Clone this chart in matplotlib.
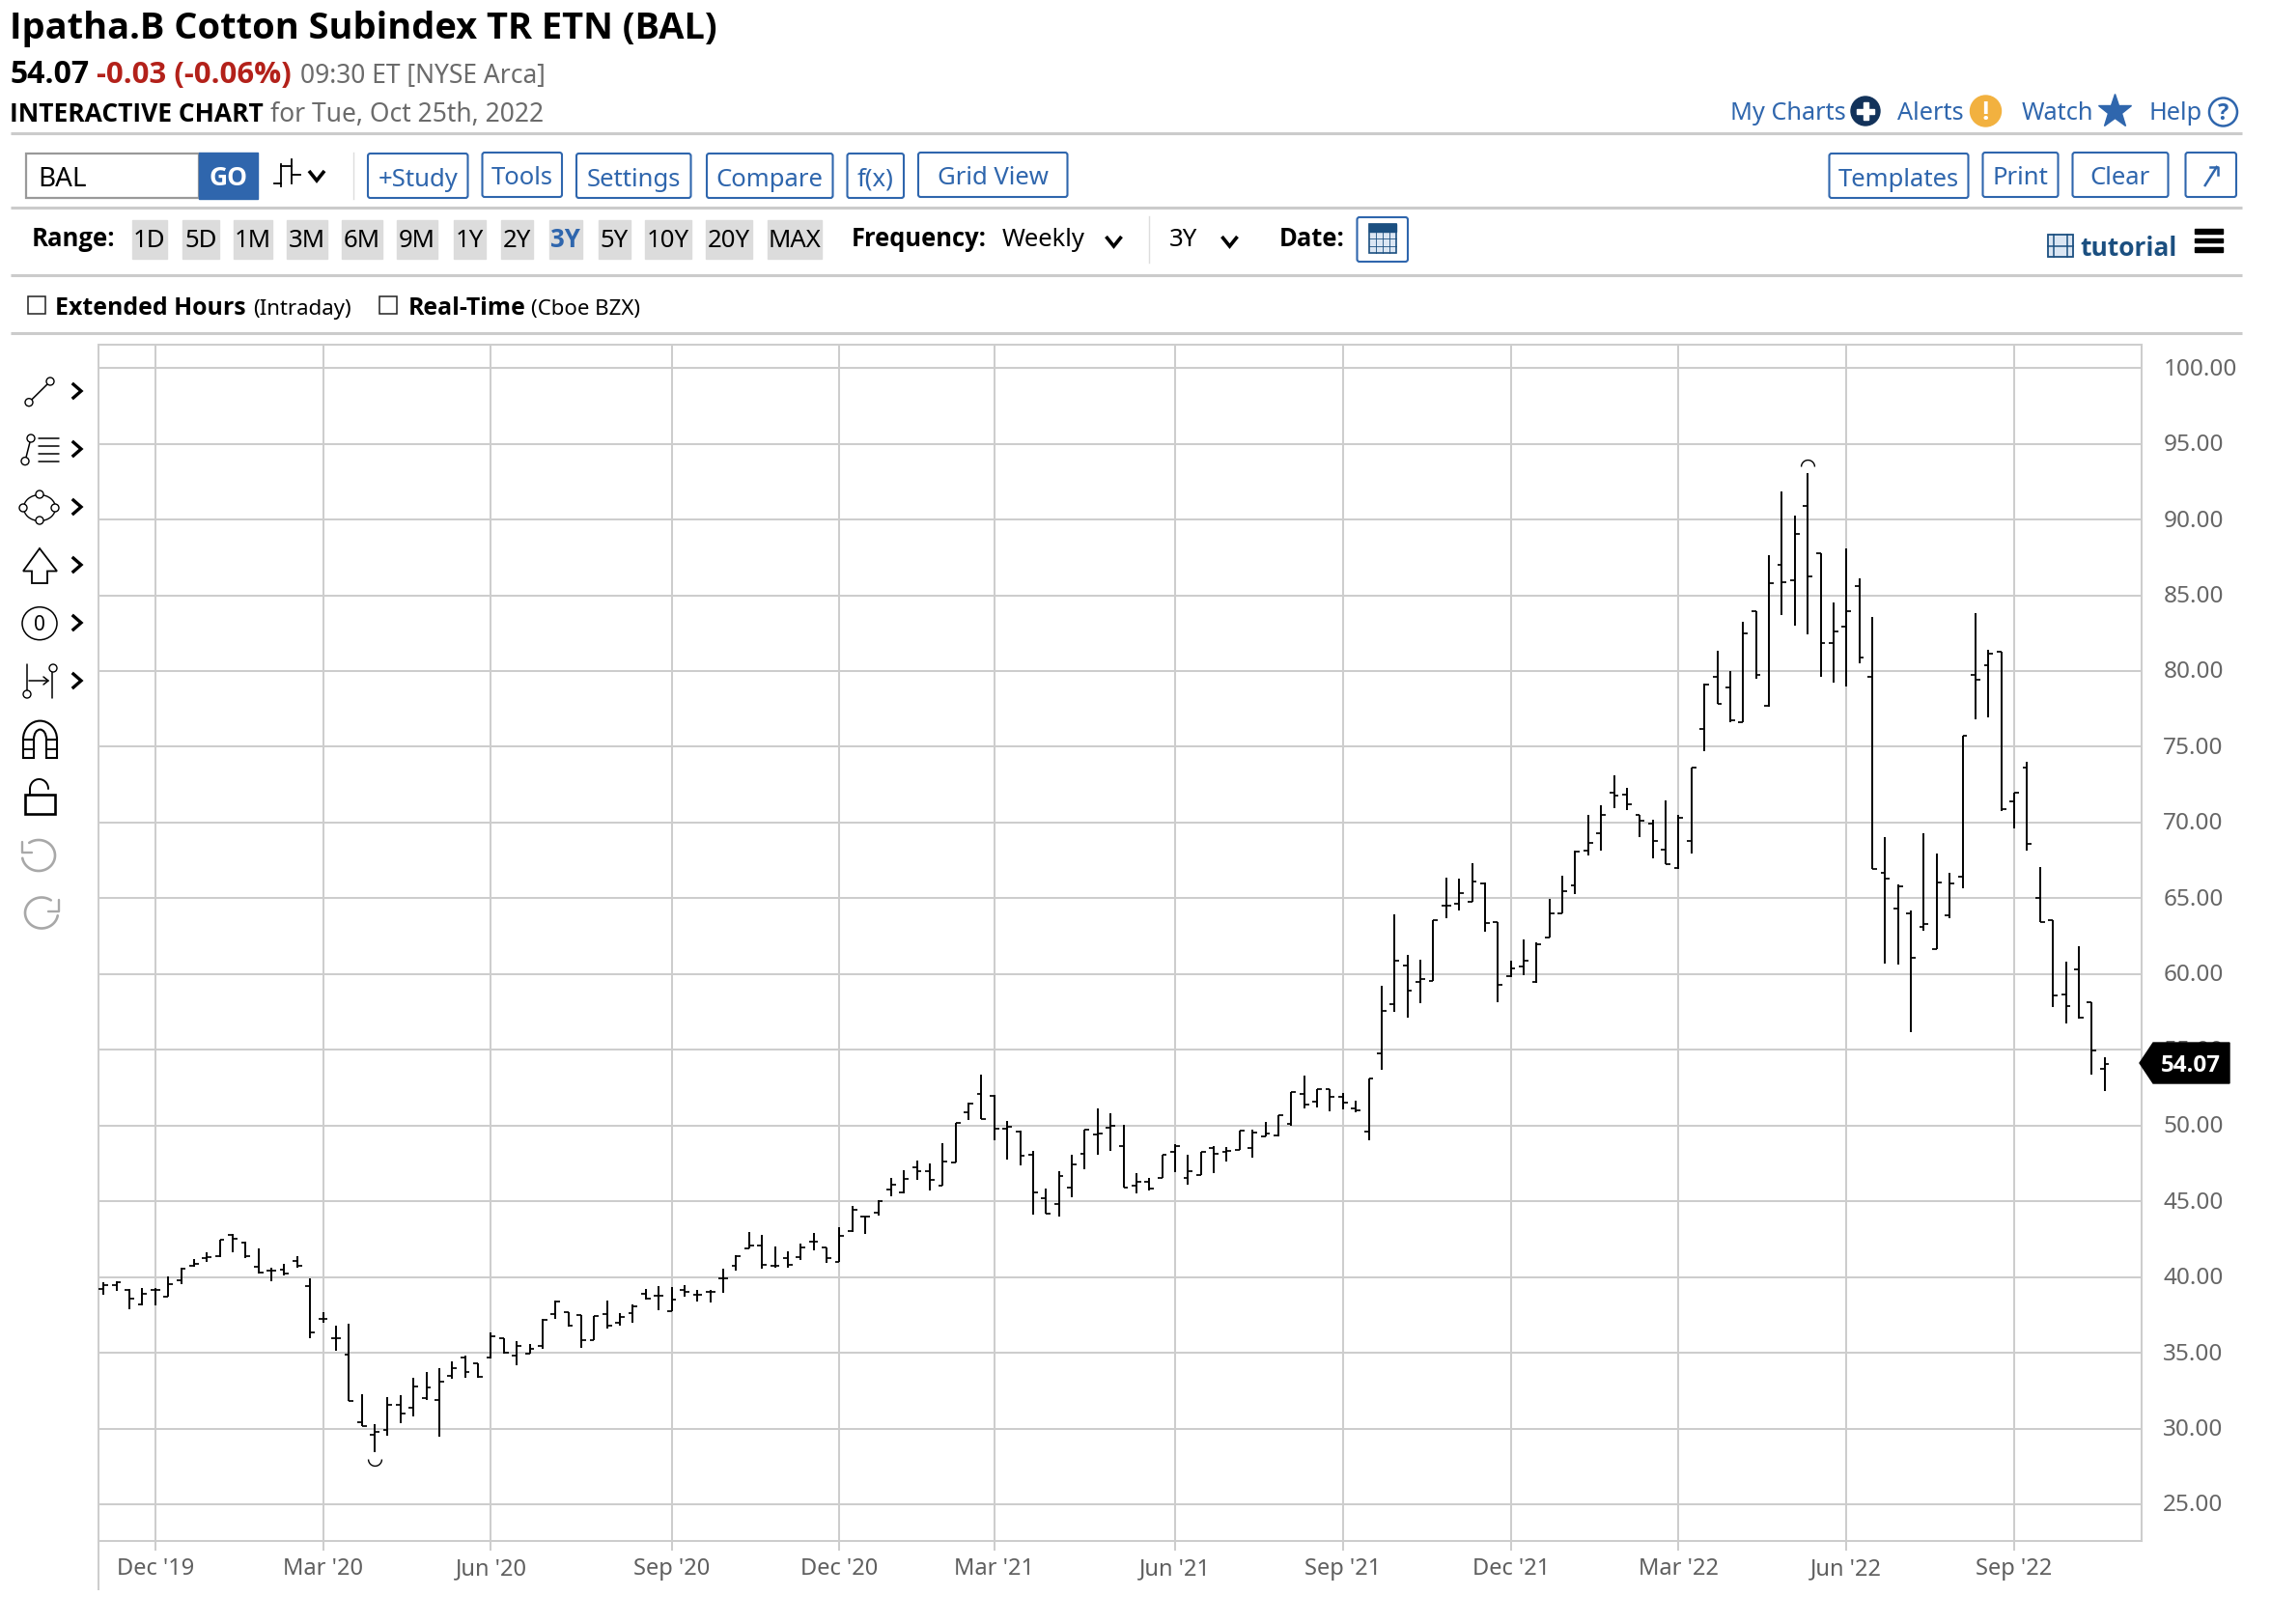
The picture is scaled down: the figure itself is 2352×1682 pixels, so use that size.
import numpy as np
import pandas as pd
import matplotlib
matplotlib.use('Agg')
import matplotlib.pyplot as plt
from matplotlib import font_manager as fm
import matplotlib.patheffects as pe
from matplotlib.patches import Rectangle, Circle, Ellipse, Polygon, Arc, FancyBboxPatch
from matplotlib.path import Path
from matplotlib.transforms import offset_copy, ScaledTranslation

plt.rcParams['font.family'] = ['Noto Sans', 'DejaVu Sans']

W, H = 2352, 1682

first_week = '2019-11-04'
y_ticks = [25, 30, 35, 40, 45, 50, 55, 60, 65, 70, 75, 80, 85, 90, 95, 100]
last_price = 54.07

opens = [39.21,39.45,39.17,38.17,39.15,38.72,39.77,40.77,41.28,41.38,42.81,42.30,40.70,40.45,40.51,41.06,
 39.38,37.21,35.98,34.85,30.40,29.57,29.91,31.55,31.34,32.02,31.91,33.49,34.70,34.30,34.68,35.96,34.81,34.96,35.43,37.53,
 37.65,37.51,35.84,37.55,36.99,37.61,38.91,38.78,37.76,39.17,38.81,39.04,39.89,40.75,41.88,42.09,40.72,41.24,41.32,42.32,41.94,41.02,43.01,43.99,44.24,45.78,45.59,47.25,46.99,46.03,47.57,50.87,52.11,51.98,49.81,49.62,
 48.09,45.21,44.83,45.91,48.13,49.38,49.85,48.66,46.00,46.30,46.55,48.28,46.53,46.72,48.53,48.23,48.40,48.53,49.30,49.32,50.09,52.11,51.57,52.40,51.89,51.11,49.62,
 54.73,58.00,60.53,59.45,59.55,64.54,64.63,64.78,66.01,63.45,59.83,60.49,59.45,62.43,64.03,65.82,68.14,69.28,72.00,71.83,70.51,69.94,68.23,66.97,68.81,
 76.18,79.64,78.91,76.65,83.93,77.69,87.03,86.00,90.88,87.76,81.84,82.93,85.62,79.59,
 66.70,64.35,63.99,63.11,61.66,63.88,66.42,79.76,80.38,81.26,71.41,73.61,65.01,63.54,58.68,60.32,58.14,53.73]
highs = [39.66,39.74,39.19,39.28,39.28,40.04,40.60,41.19,41.62,42.47,42.85,42.34,41.87,40.60,40.87,41.36,
 39.91,37.66,36.77,36.94,32.26,30.26,32.04,32.21,33.32,33.74,33.96,34.43,34.81,34.30,36.34,35.96,35.74,35.57,37.21,38.43,
 37.65,37.51,37.44,38.44,37.59,38.19,39.21,39.38,39.32,39.47,39.13,39.15,40.53,41.43,42.94,42.79,42.03,41.71,42.20,42.88,41.98,43.26,44.67,43.99,45.05,46.55,47.04,47.68,47.48,48.81,50.17,51.54,53.39,52.05,50.30,49.66,
 48.34,45.85,46.98,48.09,49.74,51.15,50.81,50.04,46.85,46.55,48.04,48.77,48.04,48.26,48.64,48.60,49.68,49.70,50.21,50.68,52.23,53.28,52.40,52.40,52.17,51.66,53.11,
 59.23,63.97,61.24,60.94,63.56,66.33,66.31,67.29,66.03,63.45,60.90,62.26,62.07,64.95,66.48,68.12,70.53,71.17,73.09,72.26,70.51,70.19,71.43,70.49,73.65,
 79.17,81.37,80.02,83.27,83.97,87.65,91.86,90.28,93.06,87.80,84.55,88.10,86.15,83.57,
 69.02,65.93,64.22,69.30,67.95,66.67,75.75,83.85,81.41,81.28,71.97,74.02,67.06,63.58,60.83,61.81,58.14,54.52]
lows = [38.85,39.06,37.87,38.13,38.11,38.68,39.53,40.70,40.98,41.34,41.62,41.28,40.21,39.70,40.13,40.64,
 35.96,36.98,35.15,31.79,30.13,28.43,29.53,30.38,30.81,31.87,29.49,33.28,33.32,33.32,34.64,34.94,34.17,34.94,35.23,37.26,
 36.74,35.29,35.84,36.57,36.78,37.01,38.51,37.80,37.72,38.70,38.40,38.29,38.93,40.41,41.86,40.53,40.58,40.58,41.13,41.75,40.96,41.00,42.96,42.84,44.03,45.31,45.54,46.42,45.69,46.01,47.57,50.38,50.43,49.02,47.74,47.36,
 44.09,44.17,44.00,45.28,47.09,48.04,48.34,45.91,45.53,45.74,46.55,46.94,46.09,46.72,46.85,47.62,48.38,47.87,49.28,49.28,49.96,51.11,51.19,50.91,51.06,50.89,49.02,
 53.65,57.51,57.10,58.08,59.53,63.67,64.22,64.78,62.81,58.12,59.79,59.91,59.42,62.41,64.01,65.29,67.85,68.12,70.96,70.83,69.04,67.65,67.23,66.95,67.93,
 74.68,77.84,76.62,76.62,79.49,77.67,83.68,82.99,82.41,79.64,79.23,79.00,80.49,66.93,
 60.66,60.60,56.18,62.84,61.64,63.69,65.65,76.82,76.92,70.79,69.59,68.12,63.43,57.83,56.76,57.08,53.35,52.26]
closes = [39.45,39.68,38.60,38.89,39.15,39.53,40.55,40.89,41.32,42.43,42.55,41.36,40.30,40.45,40.21,40.74,
 36.34,37.26,35.98,31.79,30.15,29.79,31.57,30.98,32.77,32.68,33.11,33.96,33.70,33.43,36.11,35.00,35.47,35.23,37.19,38.38,
 36.78,35.84,37.42,36.80,37.33,38.08,38.55,38.78,38.53,39.00,38.81,39.02,39.89,41.39,42.07,40.83,40.72,40.79,41.98,42.32,41.22,42.73,44.41,43.99,45.03,46.08,46.46,47.01,46.42,47.61,50.17,51.43,50.45,49.81,49.91,48.02,
 45.60,44.21,46.66,47.45,49.74,49.47,49.96,45.91,46.30,45.83,48.04,48.62,46.96,48.26,48.15,48.34,49.68,49.55,49.47,50.66,52.21,51.36,52.38,51.89,51.49,50.98,53.09,
 57.59,60.87,58.91,59.64,63.54,64.54,65.33,66.10,63.37,59.30,60.34,60.87,61.94,63.99,65.46,68.08,68.66,70.49,71.81,71.22,70.11,68.76,67.27,70.32,73.65,
 79.10,77.86,76.75,82.48,79.74,85.77,85.88,89.08,86.22,81.84,82.59,83.97,80.92,66.93,
 66.29,65.76,61.07,63.33,66.03,65.95,75.75,79.40,81.15,70.88,71.97,68.59,63.43,58.59,57.89,57.10,54.95,54.07]

dates = pd.date_range(first_week, periods=len(closes), freq='W-MON')
idx = np.arange(len(closes))
tick_pos = [i for i, d in enumerate(dates) if d.month in (3, 6, 9, 12) and d.day <= 7]
tick_txt = [dates[i].strftime("%b '%y") for i in tick_pos]

# does an installed Noto/Open Sans have a true bold face?
BOLD_FAMILY = None
for fam in ('Noto Sans', 'Open Sans'):
    if any(f.name == fam and f.weight in ('bold', 700) for f in fm.fontManager.ttflist):
        BOLD_FAMILY = fam
        break

fig = plt.figure(figsize=(W / 100, H / 100), dpi=100, facecolor='white')

# ---------- price chart ----------
L, R, T_, B = 102.0, 2217.7, 357.0, 1595.7
ax = fig.add_axes([L / W, 1 - B / H, (R - L) / W, (B - T_) / H])
px_per_bar = 13.37
ax.set_xlim((L - 107.3) / px_per_bar, (R - 107.3) / px_per_bar)
v_at = lambda y: 50 + (1165.7 - y) / 15.69
ax.set_ylim(v_at(B), v_at(T_))

GRID = '#cdcdcd'
ax.set_axisbelow(True)
ax.grid(True, color=GRID, lw=1.45)
for s in ax.spines.values():
    s.set_color(GRID)
    s.set_linewidth(1.45)
ax.yaxis.tick_right()
ax.set_yticks(y_ticks)
ax.set_yticklabels([f'{v:.2f}' for v in y_ticks], fontsize=17.5, color='#666666')
ax.set_xticks(tick_pos)
ax.set_xticklabels(tick_txt, fontsize=17, color='#5f5f5f')
ax.tick_params(axis='y', length=0, pad=16.3)
ax.tick_params(axis='x', length=7.2, color=GRID, width=1.45, pad=5.2)
for lab in ax.get_yticklabels():
    lab.set_transform(lab.get_transform() + ScaledTranslation(0, 1.5 / 100, fig.dpi_scale_trans))

tick = 0.36
ax.vlines(idx, lows, highs, color='black', lw=1.4, zorder=3)
ax.hlines(opens, idx - tick, idx, color='black', lw=1.25, zorder=3)
ax.hlines(closes, idx, idx + tick, color='black', lw=1.25, zorder=3)

t = np.linspace(0, np.pi, 20)
cap = Path(np.c_[np.cos(t), np.sin(t)], closed=False)
cup = Path(np.c_[np.cos(t), -np.sin(t)], closed=False)
imax, imin = int(np.argmax(highs)), int(np.argmin(lows))
ax.plot([imax], [highs[imax]], marker=cap, ms=10, mfc='none', mec='black', mew=1.0,
        ls='none', clip_on=False,
        transform=offset_copy(ax.transData, fig=fig, y=7, units='dots'), zorder=3)
ax.plot([imin], [lows[imin]], marker=cup, ms=10, mfc='none', mec='black', mew=1.0,
        ls='none', clip_on=False,
        transform=offset_copy(ax.transData, fig=fig, y=-7, units='dots'), zorder=3)

# ---------- page furniture, drawn in pixel space ----------
ui = fig.add_axes([0, 0, 1, 1], facecolor='none')
ui.set_xlim(0, W)
ui.set_ylim(H, 0)
ui.axis('off')

S = 1.5
BLUE = '#2f66ad'
GRAY = '#6b6b6b'
RED = '#b3211a'
NAVY = '#1b4f80'


def txt(x, y, s, size=18.5, color='black', bold=False, **kw):
    if bold and BOLD_FAMILY:
        return ui.text(x, y, s, fontsize=size, color=color, family=[BOLD_FAMILY, 'DejaVu Sans'],
                       fontweight='bold', va='baseline', **kw)
    o = ui.text(x, y, s, fontsize=size, color=color, va='baseline', **kw)
    if bold:
        o.set_path_effects([pe.withStroke(linewidth=size * 0.055, foreground=color)])
    return o


def rule(y):
    ui.plot([11, 2322], [y, y], color='#cbcbcb', lw=2.2, solid_capstyle='butt')


for y in (137.5, 215, 285, 345):
    rule(y)

txt(10, 40, 'Ipatha.B Cotton Subindex TR ETN (BAL)', 27.4, bold=True)
txt(10, 86, '54.07', 23, bold=True)
txt(100, 86, '-0.03 (-0.06%)', 22.4, RED, bold=True)
txt(311, 86, '09:30 ET [NYSE Arca]', 19, GRAY)
txt(10, 126, 'INTERACTIVE CHART', 19, bold=True)
txt(280, 126, 'for Tue, Oct 25th, 2022', 19, GRAY)

# top right links
txt(1195 * S, 124, 'My Charts', 18.2, BLUE)
ui.add_patch(Circle((1288 * S, 115), 15, color='#12325a'))
ui.add_patch(Rectangle((1288 * S - 9, 112.5), 18, 5, color='white'))
ui.add_patch(Rectangle((1288 * S - 2.5, 106), 5, 18, color='white'))
txt(1310 * S, 124, 'Alerts', 18.2, BLUE)
ui.add_patch(Circle((1371 * S, 115), 16, color='#f2b13f'))
txt(1371 * S, 124, '!', 19, 'white', bold=True, ha='center')
txt(1396 * S, 124, 'Watch', 18.2, BLUE)
ui.plot([1460 * S], [115], marker='*', ms=26, color=BLUE, mec=BLUE)
txt(1484 * S, 124, 'Help', 18.2, BLUE)
ui.add_patch(Circle((1535 * S, 116), 14.5, fc='white', ec=BLUE, lw=1.8))
txt(1535 * S, 124, '?', 17, BLUE, bold=True, ha='center')

# symbol box
ui.add_patch(Rectangle((18 * S, 159), 119 * S, 46, fc='white', ec='#999999', lw=1.6))
txt(26.5 * S, 193, 'BAL', 20)
ui.add_patch(Rectangle((137 * S, 158), 41 * S, 48, color=BLUE))
txt(158 * S, 192, 'GO', 19, 'white', bold=True, ha='center')
# bar style icon
for x, y0, y1 in ((291, 170, 193), (302, 165, 190)):
    ui.plot([x, x], [y0, y1], color='black', lw=1.3)
ui.plot([284, 291], [190, 190], color='black', lw=1.3)
ui.plot([291, 302], [172, 172], color='black', lw=1.3)
ui.plot([302, 311], [181, 181], color='black', lw=1.3)


def chevron(x, y, w=8, h=5, lw=2.6, color='black'):
    ui.plot([x - w, x, x + w], [y - h, y + h, y - h], color=color, lw=lw,
            solid_joinstyle='miter', solid_capstyle='butt')


chevron(328, 182)
ui.plot([366, 366], [158, 206], color='#dddddd', lw=1.0)


def button(x0, x1, label, y0=158, y1=206, base=192.5):
    ui.add_patch(FancyBboxPatch((x0 * S, y0 + 1), (x1 - x0) * S, y1 - y0 - 2,
                                boxstyle='round,pad=0,rounding_size=2.5',
                                fc='white', ec=BLUE, lw=1.5))
    if label:
        txt((x0 + x1) / 2 * S, base, label, 18.5, BLUE, ha='center')


for x0, x1, lab, dy in [(254, 323, '+Study', 0), (333, 388, 'Tools', -1), (398, 477, 'Settings', 0),
                        (488, 575, 'Compare', 0), (585, 624, 'f(x)', 0), (634, 737, 'Grid View', -1),
                        (1263, 1359, 'Templates', 0), (1369, 1421, 'Print', -1), (1431, 1497, 'Clear', -1),
                        (1509, 1544, '', -1)]:
    button(x0, x1, lab, y0=158 + dy, y1=206 + dy, base=192.5 + dy * 1.5)
ax_x, ax_y = 1526.5 * S, 182
ui.plot([ax_x - 6, ax_x + 6], [ax_y + 10, ax_y - 9], color=BLUE, lw=1.8)
ui.plot([ax_x - 1, ax_x + 7, ax_x + 7], [ax_y - 9, ax_y - 9, ax_y - 1], color=BLUE, lw=1.8)

# range row
txt(22 * S, 255, 'Range:', 18.5, bold=True)
for x0, x1, lab in [(91, 115, '1D'), (126, 151, '5D'), (161, 188, '1M'), (198, 226, '3M'),
                    (236, 264, '6M'), (274, 302, '9M'), (313, 335, '1Y'), (346, 368, '2Y'),
                    (379, 402, '3Y'), (413, 435, '5Y'), (445, 477, '10Y'), (487, 519, '20Y'),
                    (530, 567, 'MAX')]:
    ui.add_patch(Rectangle((x0 * S, 228), (x1 - x0) * S, 40, color='#dcdcdc'))
    sel = lab == '3Y'
    txt((x0 + x1) / 2 * S, 256, lab, 18.5, BLUE if sel else 'black', bold=sel, ha='center')
txt(588 * S, 255, 'Frequency:', 18.4, bold=True)
txt(692 * S, 255, 'Weekly', 18.5)
chevron(769 * S, 250)
ui.plot([793 * S] * 2, [224, 272], color='#dddddd', lw=1.0)
txt(807 * S, 255, '3Y', 18.5)
chevron(849 * S, 250)
txt(883 * S, 255, 'Date:', 18.4, bold=True)
button(937, 972, '', y0=224, y1=272)
# calendar glyph
cx0, cy0 = 945.5 * S, 232
ui.add_patch(Rectangle((cx0, cy0), 28, 30, fc='#dbe6f3', ec=NAVY, lw=1.2))
ui.add_patch(Rectangle((cx0, cy0), 28, 8, color=NAVY))
for k in (1, 2, 3):
    ui.plot([cx0 + k * 7] * 2, [cy0 + 8, cy0 + 30], color=NAVY, lw=0.6)
for k in (1, 2):
    ui.plot([cx0, cx0 + 28], [cy0 + 8 + k * 7.3] * 2, color=NAVY, lw=0.6)

# tutorial + menu
fx, fy = 2121, 243
ui.add_patch(Rectangle((fx, fy), 26, 23, fc='#dbe6f3', ec=NAVY, lw=1.3))
for dx in (6, 20):
    ui.plot([fx + dx] * 2, [fy, fy + 23], color=NAVY, lw=1.1)
ui.plot([fx, fx + 26], [fy + 11.5] * 2, color=NAVY, lw=1.1)
txt(1436 * S, 265, 'tutorial', 19, NAVY, bold=True)
for y in (237, 246.5, 256):
    ui.add_patch(Rectangle((2273, y), 29, 4.5, color='black'))

# checkbox row
ui.add_patch(Rectangle((28.5, 307), 18, 18, fc='white', ec='#222222', lw=1.1))
txt(38 * S, 326, 'Extended Hours', 17.9, bold=True)
txt(175 * S, 326, '(Intraday)', 16)
ui.add_patch(Rectangle((262 * S, 307), 18, 18, fc='white', ec='#222222', lw=1.1))
txt(282 * S, 326, 'Real-Time', 17.9, bold=True)
txt(367 * S, 326, '(Cboe BZX)', 16)

# axis stem below the plot
ui.plot([L, L], [B, 1646], color=GRID, lw=1.45)

# price tag
ui.add_patch(Polygon([(2216, 1101), (2230, 1080), (2309, 1080), (2309, 1122), (2230, 1122)],
                     closed=True, color='black', zorder=5))
txt(2269, 1110, f'{last_price:.2f}', 17.5, 'white', bold=True, ha='center', zorder=6)


# ---------- drawing tools column ----------
def ic_line(xs, ys, color='black', lw=1.1):
    ui.plot(xs, ys, color=color, lw=lw, solid_capstyle='round')


def ic_dot(x, y, r=4):
    ui.add_patch(Circle((x, y), r, fc='white', ec='black', lw=1.0, zorder=4))


for y in (405, 465, 525, 585, 645, 705):
    ui.plot([76, 84, 76], [y - 7, y, y + 7], color='black', lw=2.4, solid_joinstyle='miter')

ic_line([30, 52], [416.7, 395])
ic_dot(30, 416.7)
ic_dot(52, 395)

ic_line([26, 32], [477.6, 454])
ic_dot(32, 454)
ic_dot(26, 477.6)
for y in (454, 462, 470, 477.6):
    ic_line([40, 61], [y, y])

ui.add_patch(Ellipse((41, 526), 33, 27, fc='none', ec='black', lw=1.0))
for p in ((24, 526), (57, 526), (41, 512), (41, 539)):
    ic_dot(*p)

ui.add_patch(Polygon([(41, 568), (59, 591.5), (49, 591.5), (49, 604), (33, 604), (33, 591.5), (24, 591.5)],
                     closed=True, fc='white', ec='black', lw=1.3))

ui.add_patch(Ellipse((41, 645.7), 36, 34, fc='none', ec='black', lw=1.1))
txt(41, 653, '0', 15, ha='center')

ic_line([28, 28], [688, 720])
ic_line([54, 54], [696, 723])
ic_line([30, 50], [705, 705])
ic_line([45, 50, 45], [701, 705, 709])
ic_dot(28, 719)
ic_dot(55, 692)

# magnet
ui.add_patch(Arc((41.5, 765.6), 35, 38, theta1=180, theta2=360, color='black', lw=1.5))
ui.add_patch(Arc((41.5, 765.6), 13, 20, theta1=180, theta2=360, color='black', lw=1.5))
for x0 in (24, 48):
    ui.add_patch(Rectangle((x0, 765.6), 11, 19.4, fc='none', ec='black', lw=1.5))
    ic_line([x0, x0 + 11], [775.5, 775.5], lw=1.3)

# lock
ui.add_patch(Rectangle((26, 823), 31, 20, fc='none', ec='black', lw=1.9))
a = np.radians(np.linspace(0, 180, 30))
ic_line(40.5 + 9.5 * np.cos(a), 817 - 10 * np.sin(a), lw=1.4)
ic_line([31, 31], [817, 823], lw=1.4)


# undo / redo
def arc_line(cx, cy, a0, a1):
    th = np.radians(np.linspace(a0, a1, 60))
    ic_line(cx + 17 * np.cos(th), cy - 16 * np.sin(th), color='#a8a8a8', lw=1.9)


arc_line(40, 886, 125, -170)
ic_line([23, 23, 33], [872, 883, 883], color='#a8a8a8', lw=1.7)
arc_line(43, 945.5, 55, 350)
ic_line([60.5, 60.5, 50], [932, 943.5, 943.5], color='#a8a8a8', lw=1.7)

fig.savefig('out.png', dpi=100, facecolor='white')
